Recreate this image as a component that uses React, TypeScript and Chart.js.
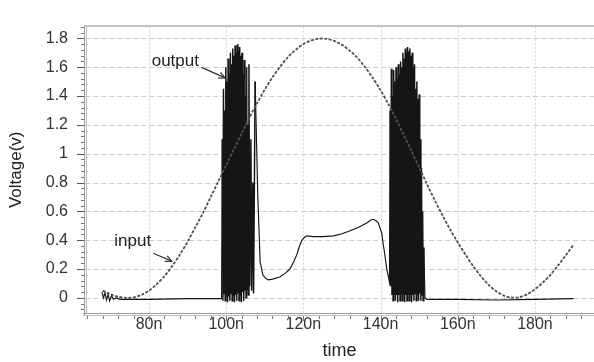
import React, { useEffect, useRef } from 'react';
import { Chart, registerables } from 'chart.js';
Chart.register(...registerables);

const FONT = '"Liberation Sans", Arial, sans-serif';

const inputTimes = [68, 70, 72, 74, 76, 78, 80, 82, 84, 86, 88, 90, 92, 94, 96, 98, 100, 102, 104, 106, 108, 110, 112, 114, 116, 118, 120, 122, 124, 126, 128, 130, 132, 134, 136, 138, 140, 142, 144, 146, 148, 150, 152, 154, 156, 158, 160, 162, 164, 166, 168, 170, 172, 174, 176, 178, 180, 182, 184, 186, 188, 190];
const inputVolts = [0.05, 0.025, 0.008, 0.0, 0.003, 0.02, 0.05, 0.095, 0.15, 0.22, 0.3, 0.39, 0.49, 0.59, 0.7, 0.81, 0.92, 1.03, 1.14, 1.25, 1.35, 1.445, 1.53, 1.605, 1.67, 1.72, 1.76, 1.785, 1.798, 1.797, 1.782, 1.755, 1.715, 1.665, 1.6, 1.525, 1.44, 1.345, 1.24, 1.13, 1.02, 0.905, 0.79, 0.68, 0.575, 0.475, 0.385, 0.3, 0.22, 0.15, 0.09, 0.045, 0.015, 0.002, 0.005, 0.025, 0.06, 0.105, 0.16, 0.225, 0.295, 0.37];

const outputTimes = [
  67.8, 68.2, 68.6, 69.0, 69.4, 69.8, 70.3, 70.8, 71.5, 72.5, 80, 90, 98.8,
  99.0, 99.15, 99.3, 99.45, 99.6, 99.75, 99.9, 100.05, 100.2, 100.35, 100.5, 100.65, 100.8, 100.95,
  101.1, 101.25, 101.4, 101.55, 101.7, 101.85, 102.0, 102.15, 102.3, 102.45, 102.6, 102.75, 102.9, 103.05,
  103.2, 103.35, 103.5, 103.65, 103.8, 103.95, 104.1, 104.25, 104.4, 104.55, 104.7, 104.85, 105.0, 105.15,
  105.3, 105.45, 105.6, 105.75, 105.9, 106.1, 106.4, 106.6, 106.9, 107.1, 107.5,
  108.2, 108.8, 109.5, 110.2, 110.9, 112, 113.9, 115.5, 116.5, 117.5, 118.3, 119, 119.6, 120.3, 120.9,
  122.6, 125, 127.8, 130, 132.1, 134.3, 136.4, 137.5, 138.1, 138.8, 139.4, 139.9, 140.3, 140.7, 141.1,
  141.6, 142, 142.3,
  142.5, 142.65, 142.8, 142.95, 143.1, 143.25, 143.4, 143.55, 143.7, 143.85, 144.0, 144.15, 144.3, 144.45,
  144.6, 144.75, 144.9, 145.05, 145.2, 145.35, 145.5, 145.65, 145.8, 145.95, 146.1, 146.25, 146.4, 146.55,
  146.7, 146.85, 147.0, 147.15, 147.3, 147.45, 147.6, 147.75, 147.9, 148.05, 148.2, 148.35, 148.5, 148.65,
  148.8, 148.95, 149.1, 149.25, 149.4, 149.55, 149.7, 149.85, 150.0, 150.15, 150.3, 150.45, 150.6, 150.75,
  150.9, 151.05, 151.2, 151.5, 152, 160, 170, 180, 190
];
const outputVolts = [
  0.04, 0.0, 0.035, -0.015, 0.025, -0.02, 0.015, -0.01, 0.0, -0.01, -0.01, -0.005, -0.005,
  1.1, -0.02, 1.45, 0.03, 1.3, -0.02, 1.6, 0.02, 1.5, -0.03, 1.66, 0.01, 1.55, -0.02,
  1.7, 0.03, 1.62, -0.02, 1.73, 0.02, 1.68, -0.03, 1.75, 0.02, 1.7, -0.02, 1.76, 0.03,
  1.72, -0.02, 1.74, 0.02, 1.68, -0.03, 1.7, 0.04, 1.55, -0.02, 1.65, 0.05, 1.4, 0.0,
  1.6, 0.06, 1.2, 0.02, 1.62, 0.08, 1.1, 0.05, 0.8, 0.03, 1.5,
  0.7, 0.25, 0.16, 0.135, 0.125, 0.13, 0.145, 0.175, 0.2, 0.25, 0.3, 0.36, 0.4, 0.42, 0.43,
  0.425, 0.425, 0.43, 0.445, 0.465, 0.49, 0.52, 0.54, 0.545, 0.535, 0.52, 0.48, 0.45, 0.37, 0.3,
  0.2, 0.15, 0.11,
  1.3, 0.08, 1.59, 0.02, 1.4, -0.02, 1.58, 0.03, 1.5, -0.02, 1.6, 0.02, 1.52, -0.03,
  1.62, 0.02, 1.55, -0.02, 1.64, 0.03, 1.6, -0.02, 1.7, 0.02, 1.66, -0.03, 1.73, 0.02,
  1.7, -0.02, 1.74, 0.03, 1.71, -0.02, 1.73, 0.02, 1.68, -0.03, 1.7, 0.02, 1.6, -0.02,
  1.62, 0.03, 1.45, -0.02, 1.5, 0.02, 1.38, -0.02, 1.41, 0.03, 1.1, -0.02, 0.9, 0.02,
  0.6, -0.02, 0.35, 0.0, -0.01, -0.01, -0.015, -0.01, -0.005
];

// time windows (ns) where the output oscillates densely
const burstWindows = [[98.9, 107.6], [142.4, 151.4]];

const xTicks = [80, 100, 120, 140, 160, 180];
const yTicks = [0, 0.2, 0.4, 0.6, 0.8, 1, 1.2, 1.4, 1.6, 1.8];
const xMinorStep = 4;
const yMinorStep = 0.04;

// annotation anchors in data units
const outputLabel = { text: 'output', x: 80.7, y: 1.607, ax0: 93.65, ay0: 1.599, ax1: 99.69, ay1: 1.526 };
const inputLabel = { text: 'input', x: 71.0, y: 0.36, ax0: 81.1, ay0: 0.309, ax1: 85.9, ay1: 0.255 };

const decor = {
  id: 'decor',
  beforeDatasetsDraw(chart: any) {
    const { ctx, chartArea: a, scales } = chart;
    const x = scales.x, y = scales.y;
    ctx.save();
    ctx.lineWidth = 1;
    ctx.strokeStyle = '#cccccc';
    ctx.setLineDash([5, 3]);
    yTicks.forEach((v) => {
      const py = Math.round(y.getPixelForValue(v)) + 0.5;
      ctx.beginPath(); ctx.moveTo(a.left, py); ctx.lineTo(a.right, py); ctx.stroke();
    });
    ctx.strokeStyle = '#d4d4d4';
    ctx.setLineDash([2, 2]);
    xTicks.forEach((v) => {
      const px = Math.round(x.getPixelForValue(v)) + 0.5;
      ctx.beginPath(); ctx.moveTo(px, a.top); ctx.lineTo(px, a.bottom); ctx.stroke();
    });
    ctx.restore();
  },
  afterDraw(chart: any) {
    const { ctx, chartArea: a, scales } = chart;
    const x = scales.x, y = scales.y;
    ctx.save();
    ctx.setLineDash([]);
    // frame
    ctx.lineWidth = 1;
    ctx.strokeStyle = '#9a9a9a';
    ctx.beginPath(); ctx.moveTo(a.left - 0.5, a.top); ctx.lineTo(a.left - 0.5, a.bottom + 3); ctx.stroke();
    ctx.beginPath(); ctx.moveTo(a.left - 2, a.bottom + 0.5); ctx.lineTo(a.right, a.bottom + 0.5); ctx.stroke();
    ctx.strokeStyle = '#bdbdbd';
    ctx.beginPath(); ctx.moveTo(a.left + 1.5, a.top); ctx.lineTo(a.left + 1.5, a.bottom); ctx.stroke();
    ctx.beginPath(); ctx.moveTo(a.left - 2, a.bottom + 2.5); ctx.lineTo(a.right, a.bottom + 2.5); ctx.stroke();
    ctx.strokeStyle = '#b0b0b0';
    ctx.lineWidth = 1.5;
    ctx.beginPath(); ctx.moveTo(a.left - 1, a.top - 0.5); ctx.lineTo(a.right, a.top - 0.5); ctx.stroke();
    // ticks
    ctx.lineWidth = 1;
    ctx.strokeStyle = '#777';
    for (let v = x.min - (x.min % xMinorStep) + xMinorStep; v <= x.max; v += xMinorStep) {
      const px = Math.round(x.getPixelForValue(v)) + 0.5;
      const major = xTicks.indexOf(v) >= 0;
      ctx.beginPath(); ctx.moveTo(px, a.bottom + 3); ctx.lineTo(px, a.bottom + (major ? 8 : 6)); ctx.stroke();
    }
    for (let i = Math.ceil(y.min / yMinorStep); i * yMinorStep <= y.max; i++) {
      const v = i * yMinorStep;
      const py = Math.round(y.getPixelForValue(v)) + 0.5;
      ctx.beginPath(); ctx.moveTo(a.left - 1, py); ctx.lineTo(a.left - 4, py); ctx.stroke();
    }
    ctx.strokeStyle = '#555';
    yTicks.forEach((v) => {
      const py = Math.round(y.getPixelForValue(v)) + 0.5;
      ctx.beginPath(); ctx.moveTo(a.left - 1, py); ctx.lineTo(a.left - 8, py); ctx.stroke();
    });
    // annotations
    ctx.fillStyle = '#222';
    ctx.font = '17px ' + FONT;
    ctx.textBaseline = 'alphabetic';
    ctx.textAlign = 'left';
    [outputLabel, inputLabel].forEach((l) => {
      ctx.fillText(l.text, x.getPixelForValue(l.x), y.getPixelForValue(l.y));
      const x0 = x.getPixelForValue(l.ax0), y0 = y.getPixelForValue(l.ay0);
      const x1 = x.getPixelForValue(l.ax1), y1 = y.getPixelForValue(l.ay1);
      ctx.strokeStyle = '#333';
      ctx.lineWidth = 1.2;
      ctx.beginPath(); ctx.moveTo(x0, y0); ctx.lineTo(x1, y1); ctx.stroke();
      const ang = Math.atan2(y1 - y0, x1 - x0);
      const h = 7;
      ctx.beginPath();
      ctx.moveTo(x1 - h * Math.cos(ang - 0.45), y1 - h * Math.sin(ang - 0.45));
      ctx.lineTo(x1, y1);
      ctx.lineTo(x1 - h * Math.cos(ang + 0.45), y1 - h * Math.sin(ang + 0.45));
      ctx.stroke();
    });
    ctx.restore();
  },
};

const inBurst = (t: number) => burstWindows.some(([a, b]) => t >= a && t <= b);

export default function App() {
  const ref = useRef<HTMLCanvasElement>(null);
  useEffect(() => {
    if (!ref.current) return;
    const chart = new Chart(ref.current, {
      type: 'line',
      data: {
        datasets: [
          {
            label: 'input',
            data: inputTimes.map((t, i) => ({ x: t, y: inputVolts[i] })),
            borderColor: '#505050',
            borderWidth: 1.8,
            borderDash: [3, 1.5],
            pointRadius: 0,
            tension: 0.3,
          },
          {
            label: 'output',
            data: outputTimes.map((t, i) => ({ x: t, y: outputVolts[i] })),
            borderColor: '#151515',
            borderWidth: 1.5,
            pointRadius: 0,
            tension: 0,
            segment: {
              borderWidth: (c: any) => (inBurst(c.p0.parsed.x) && inBurst(c.p1.parsed.x) ? 1.5 : 1.15),
            },
          },
        ],
      },
      options: {
        responsive: false,
        animation: false,
        layout: { padding: { top: 11, right: 0, left: 0, bottom: 0 } },
        plugins: { legend: { display: false }, tooltip: { enabled: false } },
        scales: {
          x: {
            type: 'linear',
            min: 63.42,
            max: 195.3,
            afterBuildTicks: (s: any) => { s.ticks = xTicks.map((v) => ({ value: v })); },
            afterFit: (s: any) => { s.height = 49; },
            grid: { display: false, drawTicks: false },
            border: { display: false },
            ticks: {
              callback: (v: any) => v + 'n',
              font: { family: FONT, size: 16 },
              color: '#333',
              padding: 2,
              maxRotation: 0,
              autoSkip: false,
            },
            title: { display: true, text: 'time', font: { family: FONT, size: 18 }, color: '#222', padding: { top: 0, bottom: 0 } },
          },
          y: {
            min: -0.105,
            max: 1.8816,
            afterBuildTicks: (s: any) => { s.ticks = yTicks.map((v) => ({ value: v })); },
            afterFit: (s: any) => { s.width = 85; },
            grid: { display: false, drawTicks: false },
            border: { display: false },
            ticks: {
              callback: (v: any) => String(v),
              font: { family: FONT, size: 16 },
              color: '#333',
              padding: 17,
              autoSkip: false,
            },
            title: { display: true, text: 'Voltage(v)', font: { family: FONT, size: 17 }, color: '#222', padding: { top: 6, bottom: 0 } },
          },
        },
      },
      plugins: [decor],
    } as any);
    return () => chart.destroy();
  }, []);
  return (
    <div style={{ position: 'absolute', left: 0, top: 0, width: 594, height: 362, background: '#fff' }}>
      <canvas ref={ref} width={594} height={362} />
    </div>
  );
}
